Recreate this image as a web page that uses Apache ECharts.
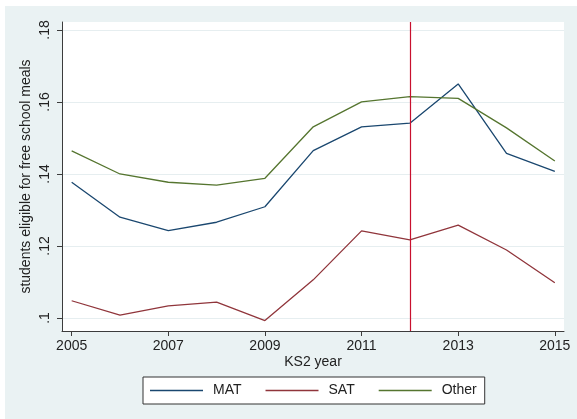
<!DOCTYPE html>
<html>
<head>
<meta charset="utf-8">
<script src="https://cdn.jsdelivr.net/npm/echarts@6/dist/echarts.min.js"></script>
<style>
  html, body { margin: 0; padding: 0; background: #fff; }
  #chart { width: 577px; height: 419px; }
</style>
</head>
<body>
<div id="chart"></div>
<script>
// KS2 years and share of students eligible for free school meals
const years = [2005, 2006, 2007, 2008, 2009, 2010, 2011, 2012, 2013, 2014, 2015];
const mat = [0.1377, 0.1280, 0.1243, 0.1266, 0.1309, 0.1465, 0.1531, 0.1541, 0.1650, 0.1457, 0.1407];
const sat = [0.1048, 0.1008, 0.1034, 0.1044, 0.0993, 0.1106, 0.1242, 0.1217, 0.1258, 0.1189, 0.1098];
const other = [0.1464, 0.1400, 0.1377, 0.1369, 0.1388, 0.1531, 0.1600, 0.1615, 0.1610, 0.1528, 0.1436];
const xTicks = [2005, 2007, 2009, 2011, 2013, 2015];
const yTicks = [0.1, 0.12, 0.14, 0.16, 0.18];
const policyYear = 2012;

const font = "Liberation Sans, Arial, sans-serif";
const axisColor = "#3c3c3c";
const gridColor = "#e6eef0";

const chart = echarts.init(document.getElementById("chart"));

function toLine(name, color, values, extra) {
  return Object.assign({
    name,
    type: "line",
    symbol: "none",
    lineStyle: { width: 1.3, color },
    itemStyle: { color },
    data: years.map((y, i) => [y, values[i]]),
  }, extra || {});
}

const option = {
  animation: false,
  textStyle: { fontFamily: font },
  graphic: [{
    type: "rect",
    left: 5, top: 6,
    shape: { width: 572, height: 413 },
    style: { fill: "#eaf2f3" },
    z: -10,
  }],
  grid: {
    left: 62, right: 13, top: 22, bottom: 88,
    show: true, backgroundColor: "#fff", borderWidth: 0,
  },
  legend: {
    left: 143, top: 377,
    padding: [6, 8, 6, 7],
    icon: "rect",
    itemWidth: 53, itemHeight: 1.3, itemGap: 24,
    backgroundColor: "#fff",
    borderColor: "#333", borderWidth: 1, borderRadius: 0,
    textStyle: { fontSize: 14, color: "#222", fontFamily: font, padding: [0, 0, 0, 5], lineHeight: 15 },
    data: ["MAT", "SAT", "Other"],
  },
  xAxis: {
    type: "value",
    min: 2004.8, max: 2015.19,
    name: "KS2 year", nameLocation: "middle", nameGap: 24, nameMoveOverlap: false,
    nameTextStyle: { fontSize: 14, color: "#222", fontFamily: font },
    axisLine: { lineStyle: { color: axisColor } },
    axisTick: { show: true, length: 5, customValues: xTicks, lineStyle: { color: axisColor } },
    axisLabel: { customValues: xTicks, fontSize: 14, color: "#222", margin: 8, formatter: (v) => String(v) },
    splitLine: { show: false },
  },
  yAxis: {
    type: "value",
    min: 0.0964, max: 0.1822,
    name: "students eligible for free school meals", nameLocation: "middle", nameRotate: 90,
    nameGap: 29, nameMoveOverlap: false,
    nameTextStyle: { fontSize: 14, color: "#222", fontFamily: font },
    axisLine: { show: true, lineStyle: { color: axisColor } },
    axisTick: { show: true, length: 5, customValues: yTicks, lineStyle: { color: axisColor } },
    axisLabel: {
      customValues: yTicks, rotate: 90, fontSize: 14, color: "#222", margin: 10,
      formatter: (v) => String(+v.toFixed(2)).replace(/^0/, ""),
    },
    splitLine: { show: true, lineStyle: { color: gridColor, width: 1 } },
  },
  series: [
    toLine("MAT", "#1a476f", mat, {
      markLine: {
        silent: true, symbol: "none", label: { show: false },
        lineStyle: { color: "#c8102e", width: 1.2, type: "solid" },
        data: [{ xAxis: policyYear }],
      },
    }),
    toLine("SAT", "#90353b", sat),
    toLine("Other", "#55752f", other),
  ],
};

chart.setOption(option);
</script>
</body>
</html>
